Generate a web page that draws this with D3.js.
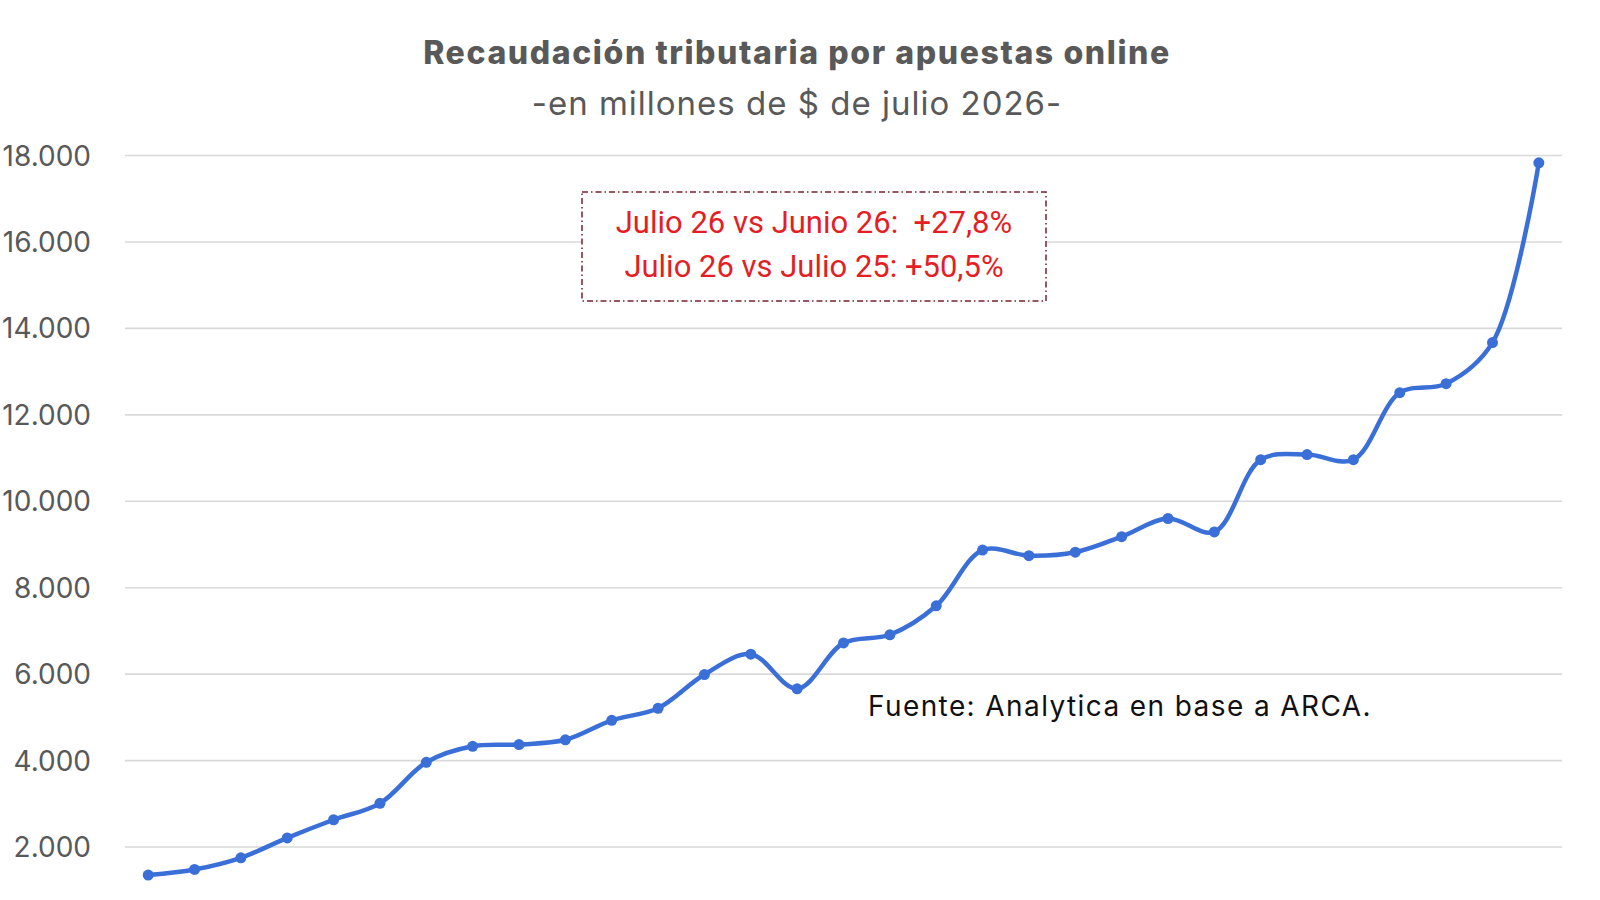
<!DOCTYPE html>
<html>
<head>
<meta charset="utf-8">
<script src="https://cdn.jsdelivr.net/npm/d3@7"></script>
<style>
  html, body { margin: 0; padding: 0; background: #fff; }
  svg { display: block; }
</style>
</head>
<body>
<div id="chart"></div>
<script>
// Monthly series, Jan 2024 .. Jul 2026 (x labels are cropped off the bottom)
const months = ['ene-24','feb-24','mar-24','abr-24','may-24','jun-24','jul-24','ago-24','sep-24','oct-24','nov-24','dic-24',
  'ene-25','feb-25','mar-25','abr-25','may-25','jun-25','jul-25','ago-25','sep-25','oct-25','nov-25','dic-25',
  'ene-26','feb-26','mar-26','abr-26','may-26','jun-26','jul-26']
const recaudacion = [1340, 1470, 1740, 2200, 2620, 3000, 3950, 4320, 4360, 4470, 4920, 5200,
  5980, 6450, 5650, 6710, 6900, 7570, 8860, 8730, 8810, 9170, 9590, 9280,
  10950, 11070, 10950, 12500, 12710, 13660, 17820]
const yTicks = [2000, 4000, 6000, 8000, 10000, 12000, 14000, 16000, 18000]

const title = 'Recaudación tributaria por apuestas online'
const subtitle = '-en millones de $ de julio 2026-'
const boxLines = ['Julio 26 vs Junio 26:  +27,8%', 'Julio 26 vs Julio 25: +50,5%']
const source = 'Fuente: Analytica en base a ARCA.'

const W = 1600, H = 900
const plot = { left: 125, right: 1562, top: 155, zeroY: 933 }
const font = 'Inter, "Noto Sans", sans-serif'

const svg = d3.select('#chart').append('svg')
  .attr('width', W).attr('height', H)
  .attr('viewBox', `0 0 ${W} ${H}`)

const x = d3.scalePoint().domain(months).range([plot.left, plot.right]).padding(0.5)
const y = d3.scaleLinear().domain([0, 18000]).range([plot.zeroY, plot.top])

// ── gridlines + y axis labels ──
const yAxis = d3.axisLeft(y)
  .tickValues(yTicks)
  .tickSize(-(plot.right - plot.left))
  .tickPadding(34)
  .tickFormat(d => d3.format(',')(d).replace(/,/g, '.'))

svg.append('g')
  .attr('transform', `translate(${plot.left},0)`)
  .call(yAxis)
  .call(g => g.select('.domain').remove())
  .call(g => g.selectAll('line').attr('stroke', '#d9d9d9').attr('stroke-width', 1.6))
  .call(g => g.selectAll('text')
    .attr('fill', '#595959')
    .attr('font-family', font)
    .attr('font-size', 28)
    .attr('dy', '0.36em'))

// ── titles ──
svg.append('text')
  .attr('x', 797).attr('y', 64)
  .attr('text-anchor', 'middle')
  .attr('font-family', font).attr('font-weight', 800).attr('font-size', 32)
  .attr('letter-spacing', 1.6)
  .attr('fill', '#595959')
  .text(title)

svg.append('text')
  .attr('x', 797).attr('y', 115)
  .attr('text-anchor', 'middle')
  .attr('font-family', font).attr('font-size', 33)
  .attr('letter-spacing', 1)
  .attr('fill', '#595959')
  .text(subtitle)

// ── comparison box ──
const box = { x: 582, y: 192, w: 464, h: 109 }
svg.append('rect')
  .attr('x', box.x).attr('y', box.y).attr('width', box.w).attr('height', box.h)
  .attr('fill', '#fff')
  .attr('stroke', '#7a1f2e').attr('stroke-width', 1.5)
  .attr('stroke-dasharray', '6,3,1.5,3')

svg.append('g').selectAll('text')
  .data(boxLines)
  .join('text')
  .attr('x', box.x + box.w / 2)
  .attr('y', (d, i) => 233 + i * 44)
  .attr('text-anchor', 'middle')
  .attr('font-family', 'Roboto, "Liberation Sans", sans-serif')
  .attr('font-size', 31)
  .attr('fill', '#e31e24')
  .style('white-space', 'pre')
  .text(d => d)

// ── source note ──
svg.append('text')
  .attr('x', 868).attr('y', 716)
  .attr('font-family', font).attr('font-size', 28)
  .attr('letter-spacing', 1.4)
  .attr('fill', '#111')
  .text(source)

// ── series ──
const line = d3.line()
  .x((d, i) => x(months[i]))
  .y(d => y(d))
  .curve(d3.curveCatmullRom.alpha(0.5))

svg.append('path')
  .datum(recaudacion)
  .attr('fill', 'none')
  .attr('stroke', '#3a6fd8')
  .attr('stroke-width', 4.5)
  .attr('stroke-linejoin', 'round')
  .attr('d', line)

svg.append('g').selectAll('circle')
  .data(recaudacion)
  .join('circle')
  .attr('cx', (d, i) => x(months[i]))
  .attr('cy', d => y(d))
  .attr('r', 5.5)
  .attr('fill', '#3a6fd8')
</script>
</body>
</html>
